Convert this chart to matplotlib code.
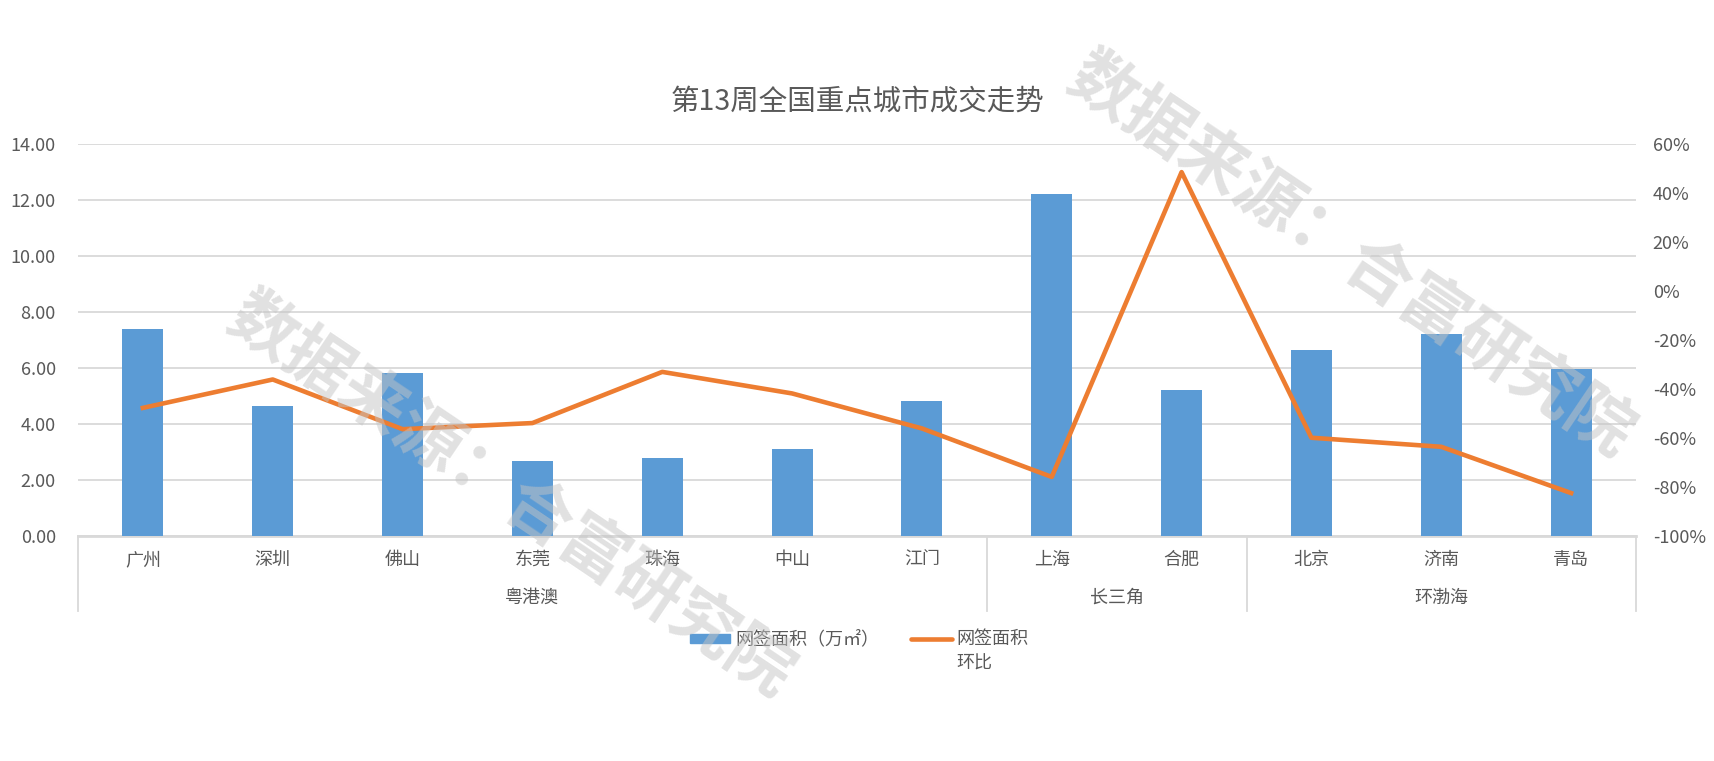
import numpy as np
import matplotlib
matplotlib.use("Agg")
import matplotlib.pyplot as plt
from matplotlib.lines import Line2D
from matplotlib.patches import Rectangle
from matplotlib.ticker import FuncFormatter, MultipleLocator

plt.rcParams['font.family'] = ['Noto Sans CJK SC', 'DejaVu Sans']

cities = ['广州', '深圳', '佛山', '东莞', '珠海', '中山', '江门', '上海', '合肥', '北京', '济南', '青岛']
regions = ['粤港澳', '长三角', '环渤海']
region_sizes = [7, 2, 3]
area = [7.39, 4.64, 5.81, 2.67, 2.78, 3.10, 4.81, 12.21, 5.21, 6.64, 7.21, 5.96]
mom = [-0.478, -0.362, -0.565, -0.540, -0.331, -0.419, -0.562, -0.760, 0.485, -0.600, -0.637, -0.826]

bar_color = '#5B9BD5'
line_color = '#ED7D31'
grid_color = '#D9D9D9'
text_color = '#595959'

fig = plt.figure(figsize=(17.14, 7.61), dpi=100)
ax = fig.add_axes([0.0455, 0.2961, 0.9090, 0.5147])
ax2 = ax.twinx()

x = np.arange(len(cities))
ax.bar(x, area, width=0.315, color=bar_color, zorder=2)
ax2.plot(x, mom, color=line_color, lw=3.3, solid_joinstyle='round', zorder=3)

ax.set_xlim(-0.5, len(cities) - 0.5)
ax.set_ylim(0, 14)
ax.yaxis.set_major_locator(MultipleLocator(2))
ax.yaxis.set_major_formatter(FuncFormatter(lambda v, p: f'{v:.2f}'))
ax2.set_ylim(-1.0, 0.6)
ax2.yaxis.set_major_locator(MultipleLocator(0.2))
ax2.yaxis.set_major_formatter(FuncFormatter(lambda v, p: f'{v * 100:.0f}%'))

ax.grid(axis='y', color=grid_color, lw=1.3, zorder=0)
ax.set_axisbelow(True)
for a in (ax, ax2):
    for s in a.spines.values():
        s.set_visible(False)
    a.tick_params(axis='y', length=0, labelsize=13, labelcolor=text_color)
ax.tick_params(axis='y', pad=16)
ax2.tick_params(axis='y', pad=12)
ax.set_xticks([])
ax.axhline(0, color=grid_color, lw=2, zorder=1, clip_on=False)

# two-level category axis
trans = ax.get_xaxis_transform()
for i, c in enumerate(cities):
    ax.text(i, -0.062, c, transform=trans, ha='center', va='center',
            fontsize=13, color=text_color)
start = 0
bounds = [-0.5]
for r, n in zip(regions, region_sizes):
    ax.text(start + (n - 1) / 2, -0.159, r, transform=trans, ha='center', va='center',
            fontsize=13, color=text_color)
    start += n
    bounds.append(start - 0.5)
for b in bounds:
    ax.plot([b, b], [0, -0.192], transform=trans, color=grid_color, lw=1.3, clip_on=False)

fig.text(858 / 1714, 1 - 102 / 761, '第13周全国重点城市成交走势', ha='center', va='center',
         fontsize=20.5, color=text_color)

# legend
W, H = 1714, 761
fig.patches.append(Rectangle((690 / W, 1 - 643 / H), 40 / W, 9 / H, transform=fig.transFigure,
                             color=bar_color))
fig.text(735 / W, 1 - 639 / H, '网签面积（万㎡）', ha='left', va='center', fontsize=13, color=text_color)
fig.lines.append(Line2D([911 / W, 952 / W], [1 - 639 / H, 1 - 639 / H], transform=fig.transFigure,
                        color=line_color, lw=3.3, solid_capstyle='round'))
fig.text(956 / W, 1 - 639 / H, '网签面积', ha='left', va='center', fontsize=13, color=text_color)
fig.text(956 / W, 1 - 664 / H, '环比', ha='left', va='center', fontsize=13, color=text_color)

# watermark
for cx, cy in [(510, 497), (1350, 257)]:
    fig.text(cx / W, 1 - cy / H, '数据来源：合富研究院', ha='center', va='center',
             rotation=-34, rotation_mode='anchor', fontsize=48, fontweight='bold',
             color='#c4c4c4', alpha=0.5, zorder=10)

fig.savefig('out.png', dpi=100, facecolor='white')
